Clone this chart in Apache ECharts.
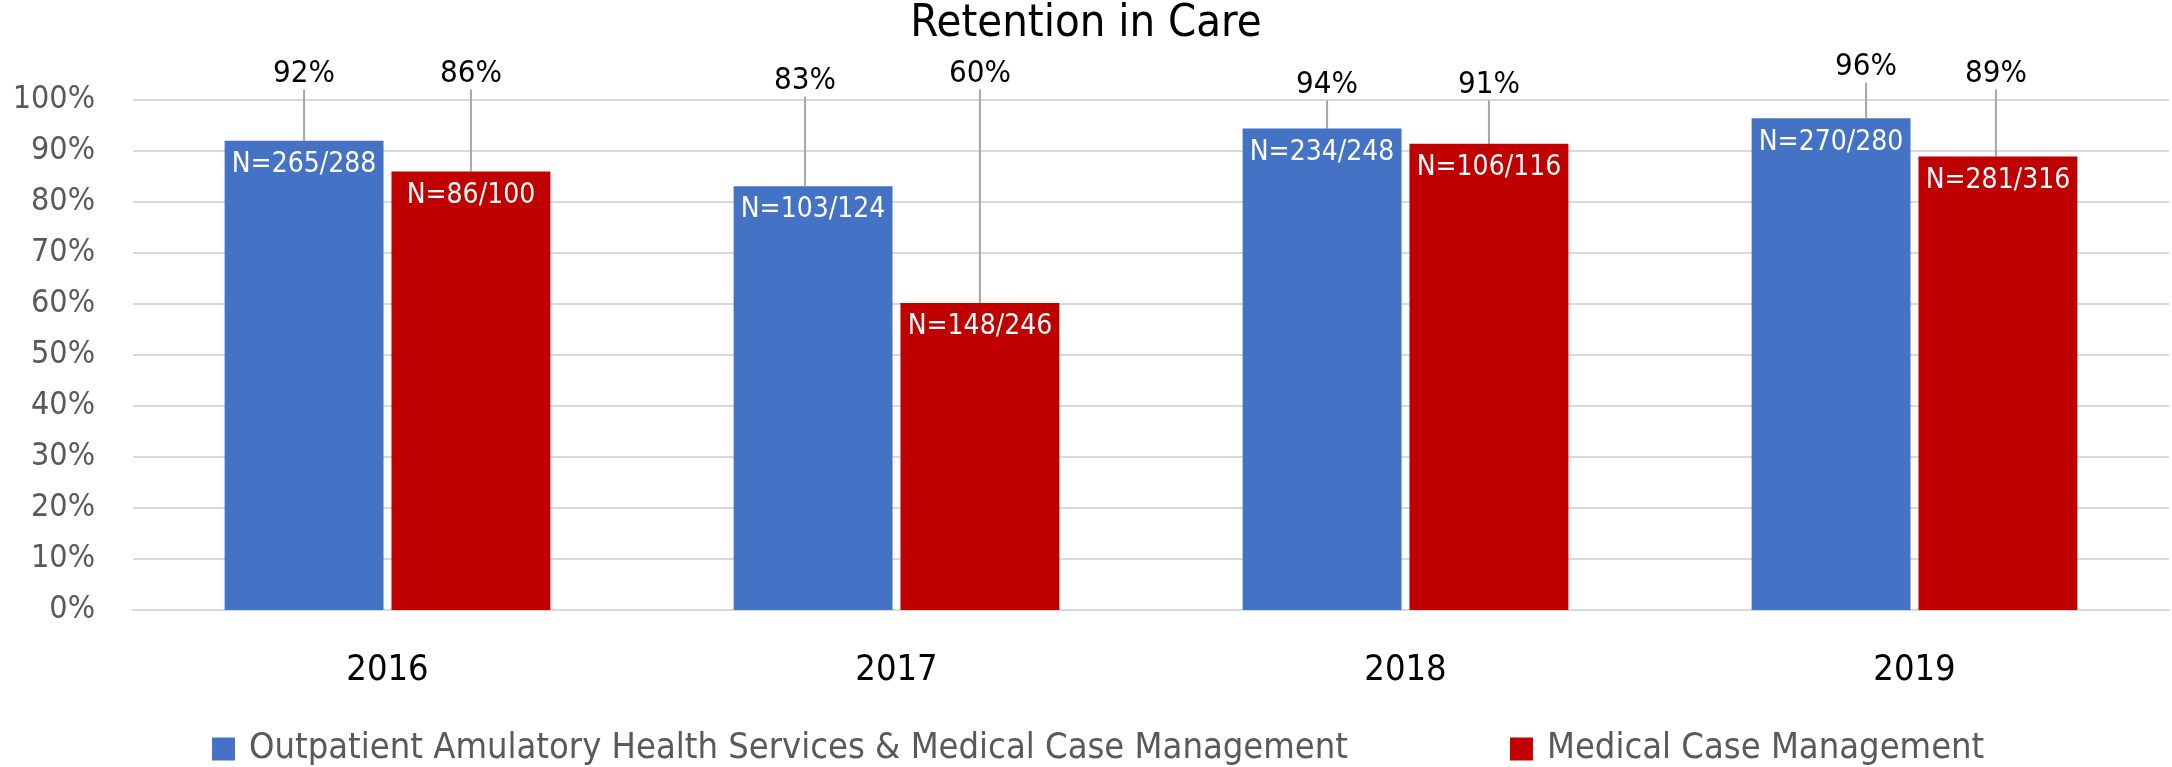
<!DOCTYPE html>
<html>
<head>
<meta charset="utf-8">
<title>Retention in Care</title>
<script src="https://cdn.jsdelivr.net/npm/echarts@6/dist/echarts.min.js"></script>
<style>
  html, body { margin: 0; padding: 0; background: #fff; }
  #main { width: 2172px; height: 767px; }
</style>
</head>
<body>
<div id="main"></div>
<script>
// data
var years = ['2016', '2017', '2018', '2019'];
var outpatientPct = [92.0, 83.1, 94.4, 96.4];
var mcmPct = [86.0, 60.2, 91.4, 88.9];
var outpatientN = ['265/288', '103/124', '234/248', '270/280'];
var mcmN = ['86/100', '148/246', '106/116', '281/316'];
var seriesNames = ['Outpatient Amulatory Health Services & Medical Case Management', 'Medical Case Management'];

var FONT = "'DejaVu Sans Condensed', 'Liberation Sans Narrow', sans-serif";
var GRID_TOP = 100;

// little nudges of the % labels, [dx, dy] per bar (like the hand-placed excel labels)
var labelNudge = [
  [[0, 0], [-8, 7], [5, 11], [35, -7]],
  [[0, 0], [0, 0], [0, 11], [-2, 0]]
];

var chartDom = document.getElementById('main');
var myChart = echarts.init(chartDom);

function pctLayout(params) {
  var k = params.seriesIndex - 2;
  var n = labelNudge[k][params.dataIndex];
  return {
    x: params.rect.x + params.rect.width / 2 + n[0],
    y: GRID_TOP - 26 + n[1],
    align: 'center',
    verticalAlign: 'middle'
  };
}

var barCommon = {
  type: 'bar',
  barCategoryGap: '36%',
  barGap: '5%'
};

var option = {
  animation: false,
  textStyle: { fontFamily: FONT },
  title: {
    text: 'Retention in Care',
    left: 'center',
    top: 2,
    padding: 0,
    textStyle: { fontFamily: FONT, fontSize: 45, fontWeight: 'normal', color: '#000' }
  },
  legend: {
    data: seriesNames,
    left: 212,
    top: 731,
    padding: 0,
    itemGap: 162,
    itemWidth: 23,
    itemHeight: 23,
    icon: 'rect',
    textStyle: { fontFamily: FONT, fontSize: 36, color: '#595959', padding: [0, 0, 0, 9] }
  },
  grid: { left: 133, right: 3, top: GRID_TOP, bottom: 157, outerBoundsMode: 'none' },
  xAxis: [
    {
      type: 'category',
      data: years,
      axisTick: { show: false },
      axisLine: { lineStyle: { color: '#D9D9D9', width: 2 } },
      axisLabel: { fontFamily: FONT, fontSize: 36, color: '#000', margin: 43 }
    },
    {
      type: 'category',
      data: years,
      show: false
    }
  ],
  yAxis: {
    type: 'value',
    min: 0,
    max: 100,
    interval: 10,
    axisLabel: { formatter: '{value}%', fontFamily: FONT, fontSize: 32, color: '#595959', margin: 38 },
    splitLine: { lineStyle: { color: '#D9D9D9', width: 2 } },
    axisLine: { show: false },
    axisTick: { show: false }
  },
  series: [
    Object.assign({}, barCommon, {
      name: seriesNames[0],
      data: outpatientPct,
      itemStyle: { color: '#4472C4' },
      label: {
        show: true,
        position: 'insideTop',
        distance: 10,
        color: '#fff',
        fontFamily: FONT,
        fontSize: 28,
        formatter: function (p) { return 'N=' + outpatientN[p.dataIndex]; }
      }
    }),
    Object.assign({}, barCommon, {
      name: seriesNames[1],
      data: mcmPct,
      itemStyle: { color: '#C00000' },
      label: {
        show: true,
        position: 'insideTop',
        distance: 10,
        color: '#fff',
        fontFamily: FONT,
        fontSize: 28,
        formatter: function (p) { return 'N=' + mcmN[p.dataIndex]; }
      }
    }),
    // see-through copies on the hidden axis, only to carry the % labels + leader lines
    Object.assign({}, barCommon, {
      name: 'pct0',
      xAxisIndex: 1,
      data: outpatientPct,
      itemStyle: { color: 'rgba(0,0,0,0)' },
      silent: true,
      label: {
        show: true,
        position: 'top',
        color: '#000',
        fontFamily: FONT,
        fontSize: 31,
        padding: [4, 4, 14, 4],
        formatter: function (p) { return Math.round(p.value) + '%'; }
      },
      labelLine: { show: true, lineStyle: { color: '#A6A6A6', width: 2 } },
      labelLayout: pctLayout
    }),
    Object.assign({}, barCommon, {
      name: 'pct1',
      xAxisIndex: 1,
      data: mcmPct,
      itemStyle: { color: 'rgba(0,0,0,0)' },
      silent: true,
      label: {
        show: true,
        position: 'top',
        color: '#000',
        fontFamily: FONT,
        fontSize: 31,
        padding: [4, 4, 14, 4],
        formatter: function (p) { return Math.round(p.value) + '%'; }
      },
      labelLine: { show: true, lineStyle: { color: '#A6A6A6', width: 2 } },
      labelLayout: pctLayout
    })
  ]
};

myChart.setOption(option);
</script>
</body>
</html>
